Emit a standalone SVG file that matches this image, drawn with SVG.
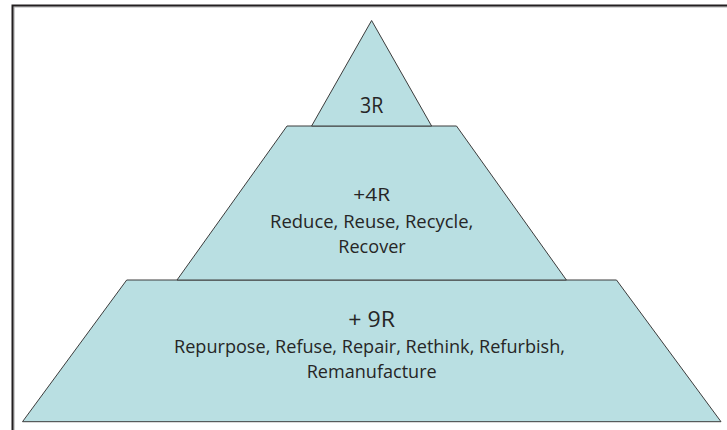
<svg xmlns="http://www.w3.org/2000/svg" width="727" height="430" viewBox="0 0 727 430">
<style>
.tier{fill:#b9dfe2;stroke:#3c3c3c;stroke-width:1;stroke-linejoin:miter}
.t{font-family:"Open Sans","Noto Sans","DejaVu Sans",sans-serif;fill:#262626;text-anchor:middle}
.big{font-size:21.5px}
.sm{font-size:17.8px}
</style>
<rect x="0" y="0" width="727" height="430" fill="#ffffff"/>
<g id="frame">
<path d="M14,430 V7 H727" fill="none" stroke="#b0b0b0" stroke-width="1.2"/>
<path d="M12.5,430 V5.5 H727" fill="none" stroke="#231f20" stroke-width="2"/>
</g>
<g id="connectors"></g>
<g id="tier-9r">
<polygon class="tier" points="126.7,280 616.5,280 721,421.7 22.5,421.7"/>
<text class="t big" x="371.7" y="327.3" textLength="46.7" lengthAdjust="spacingAndGlyphs">+ 9R</text>
<text class="t sm" x="369.5" y="353.3" textLength="391" lengthAdjust="spacingAndGlyphs">Repurpose, Refuse, Repair, Rethink, Refurbish,</text>
<text class="t sm" x="371.7" y="378.3" textLength="130" lengthAdjust="spacingAndGlyphs">Remanufacture</text>
</g>
<g id="tier-4r">
<polygon class="tier" points="287,126 456.5,126 566.4,280 177,280"/>
<text class="t sm" x="371.7" y="200.7" textLength="36.7" lengthAdjust="spacingAndGlyphs">+4R</text>
<text class="t sm" x="371.7" y="227.7" textLength="203.3" lengthAdjust="spacingAndGlyphs">Reduce, Reuse, Recycle,</text>
<text class="t sm" x="372" y="253.3" textLength="67.4" lengthAdjust="spacingAndGlyphs">Recover</text>
</g>
<g id="tier-3r">
<polygon class="tier" points="371.6,20.5 431.6,126 311.6,126"/>
<text class="t big" x="371.7" y="112.7" textLength="23.3" lengthAdjust="spacingAndGlyphs">3R</text>
</g>
</svg>
